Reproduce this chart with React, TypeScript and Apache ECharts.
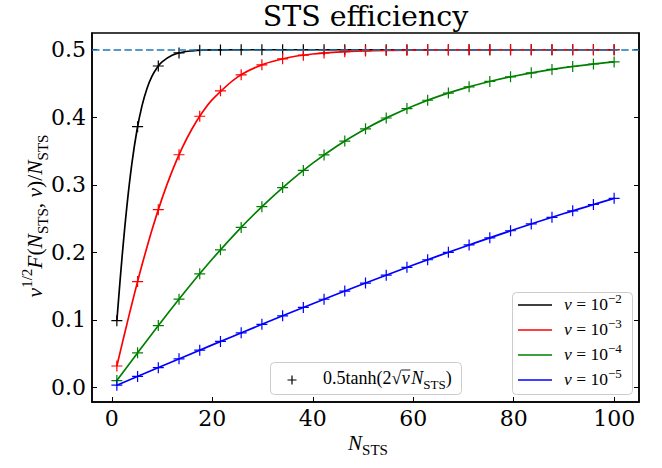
import React, { useEffect, useRef } from "react";
import * as echarts from "echarts";

// ---- tick labels ----
const xTicks = [0, 20, 40, 60, 80, 100];
const yTicks = [0, 0.1, 0.2, 0.3, 0.4, 0.5];

// ---- marker ("+") samples ----
const markerN = [1, 5.125, 9.25, 13.375, 17.5, 21.625, 25.75, 29.875, 34, 38.125, 42.25, 46.375, 50.5, 54.625, 58.75, 62.875, 67, 71.125, 75.25, 79.375, 83.5, 87.625, 91.75, 95.875, 100];
const markerNu2 = [0.0987, 0.386, 0.4759, 0.4953, 0.4991, 0.4998, 0.5, 0.5, 0.5, 0.5, 0.5, 0.5, 0.5, 0.5, 0.5, 0.5, 0.5, 0.5, 0.5, 0.5, 0.5, 0.5, 0.5, 0.5, 0.5];
const markerNu3 = [0.0316, 0.1566, 0.2632, 0.3445, 0.4015, 0.4391, 0.4629, 0.4777, 0.4866, 0.492, 0.4952, 0.4972, 0.4983, 0.499, 0.4994, 0.4996, 0.4998, 0.4999, 0.4999, 0.5, 0.5, 0.5, 0.5, 0.5, 0.5];
const markerNu4 = [0.01, 0.0511, 0.0915, 0.1306, 0.1682, 0.2037, 0.2369, 0.2676, 0.2958, 0.3213, 0.3442, 0.3647, 0.3829, 0.3989, 0.4129, 0.4252, 0.4358, 0.4451, 0.453, 0.4599, 0.4658, 0.4708, 0.4752, 0.4789, 0.482];
const markerNu5 = [0.0032, 0.0162, 0.0292, 0.0422, 0.0551, 0.068, 0.0807, 0.0934, 0.1059, 0.1183, 0.1305, 0.1426, 0.1545, 0.1662, 0.1777, 0.189, 0.2, 0.2109, 0.2215, 0.2319, 0.242, 0.2518, 0.2614, 0.2708, 0.2799];

// ---- curve samples ----
const lineNu2N = [1, 2, 3, 4, 5, 6, 7, 8, 9, 10, 12, 14, 16, 18, 20, 25, 30, 100];
const lineNu2 = [0.0987, 0.19, 0.2685, 0.332, 0.3808, 0.4168, 0.4427, 0.4608, 0.4734, 0.482, 0.4918, 0.4963, 0.4983, 0.4993, 0.4997, 0.5, 0.5, 0.5];
const lineNu3N = [1, 2, 3, 4, 5, 6, 8, 10, 12, 14, 16, 18, 20, 25, 30, 35, 40, 45, 50, 60, 70, 80, 100];
const lineNu3 = [0.0316, 0.0629, 0.0937, 0.1239, 0.153, 0.1811, 0.2334, 0.2799, 0.3202, 0.3546, 0.3833, 0.4069, 0.4262, 0.4594, 0.478, 0.4882, 0.4937, 0.4966, 0.4982, 0.4995, 0.4999, 0.5, 0.5];
const lineNu4N = [1, 5, 10, 15, 20, 25, 30, 35, 40, 45, 50, 55, 60, 65, 70, 75, 80, 85, 90, 95, 100];
const lineNu4 = [0.01, 0.0498, 0.0987, 0.1457, 0.19, 0.2311, 0.2685, 0.3022, 0.332, 0.3582, 0.3808, 0.4002, 0.4168, 0.4309, 0.4427, 0.4526, 0.4608, 0.4677, 0.4734, 0.4781, 0.482];
const lineNu5N = [1, 10, 20, 30, 40, 50, 60, 70, 80, 90, 100];
const lineNu5 = [0.0032, 0.0316, 0.0629, 0.0937, 0.1239, 0.153, 0.1811, 0.2079, 0.2334, 0.2574, 0.2799];

const asymptote = 0.5;

const curveColors = ["#000000", "#ff0000", "#008000", "#0000ff"];
const curveExponents = ["2", "3", "4", "5"];

const zip = (xs: number[], ys: number[]) => xs.map((x, i) => [x, ys[i]]);

const PLUS =
  "path://M-0.11,-1L0.11,-1L0.11,-0.11L1,-0.11L1,0.11L0.11,0.11L0.11,1L-0.11,1L-0.11,0.11L-1,0.11L-1,-0.11L-0.11,-0.11Z";

const SERIF = "'DejaVu Serif', serif";
const MATH = "'Liberation Serif', 'DejaVu Serif', serif";

function measure(text: string, font: string): number {
  const c = document.createElement("canvas").getContext("2d");
  if (!c) return text.length * 8;
  c.font = font;
  return c.measureText(text).width;
}

export default function App() {
  const ref = useRef<HTMLDivElement>(null);

  useEffect(() => {
    if (!ref.current) return;
    document.body.style.margin = "0";
    const chart = echarts.init(ref.current, undefined, { renderer: "svg" });

    const lines = [
      [lineNu2N, lineNu2],
      [lineNu3N, lineNu3],
      [lineNu4N, lineNu4],
      [lineNu5N, lineNu5],
    ];
    const markers = [markerNu2, markerNu3, markerNu4, markerNu5];

    const series: any[] = [];
    lines.forEach(([xs, ys], i) => {
      series.push({
        type: "line",
        name: "nu" + curveExponents[i],
        data: zip(xs as number[], ys as number[]),
        symbol: "none",
        smooth: 0.35,
        lineStyle: { color: curveColors[i], width: 1.7 },
        z: 2,
        silent: true,
      });
    });
    markers.forEach((ys, i) => {
      series.push({
        type: "scatter",
        name: "mk" + curveExponents[i],
        data: zip(markerN, ys),
        symbol: PLUS,
        symbolSize: 11,
        itemStyle: { color: curveColors[i], opacity: 1 },
        z: 3,
        silent: true,
      });
    });
    series.push({
      type: "line",
      name: "asym",
      data: [],
      markLine: {
        silent: true,
        symbol: ["none", "none"],
        label: { show: false },
        lineStyle: { color: "#1f77b4", width: 1.5, type: [7.5, 3.3] },
        data: [{ yAxis: asymptote }],
      },
      z: 4,
    });

    const mathRich = (size: number) => ({
      i: { fontFamily: MATH, fontStyle: "italic", fontSize: size, color: "#000", lineHeight: size * 1.4 },
      r: { fontFamily: MATH, fontSize: size, color: "#000", lineHeight: size * 1.4 },
      sup: { fontFamily: MATH, fontSize: Math.round(size * 0.72), color: "#000", verticalAlign: "top", lineHeight: Math.round(size * 0.72) },
      sub: { fontFamily: MATH, fontSize: Math.round(size * 0.72), color: "#000", verticalAlign: "bottom", lineHeight: Math.round(size * 0.72) },
    });

    const legendRows = curveColors
      .map((c, i) => {
        const y = 305 + i * 25;
        return [
          { type: "line", shape: { x1: 518, y1: y, x2: 552, y2: y }, style: { stroke: c, lineWidth: 1.7 }, z: 101 },
          {
            type: "text",
            x: 564,
            y: y - 1,
            style: {
              text: "{i|ν}{r| = 10}{sup|−" + curveExponents[i] + "}",
              rich: mathRich(17.5),
              align: "left",
              verticalAlign: "middle",
            },
            z: 101,
          },
        ];
      })
      .flat();

    // left legend text pieces, positioned by measured widths
    const lgSize = 18;
    const lgX = 323;
    const lgY = 378;
    const partA = "0.5tanh(2√";
    const wA = measure(partA, `${lgSize}px 'Liberation Serif'`);
    const wNu = measure("ν", `italic ${lgSize}px 'Liberation Serif'`);
    const nuX = lgX + wA + 0.5;
    const restX = nuX + wNu + 1.5;

    const option: any = {
      animation: false,
      grid: { left: 92, top: 33, right: 23, bottom: 66, show: true, borderColor: "#000", borderWidth: 1.5, backgroundColor: "transparent" },
      xAxis: {
        type: "value",
        min: -3.95,
        max: 104.95,
        axisLine: { show: true, onZero: false, lineStyle: { color: "#000", width: 1.5 } },
        axisTick: { show: true, inside: true, length: 5, customValues: xTicks, lineStyle: { color: "#000", width: 1 } },
        axisLabel: { customValues: xTicks, fontFamily: SERIF, fontSize: 22, color: "#000", margin: 5 },
        splitLine: { show: false },
      },
      yAxis: [
        {
          type: "value",
          min: -0.0217,
          max: 0.5248,
          axisLine: { show: true, onZero: false, lineStyle: { color: "#000", width: 1.5 } },
          axisTick: { show: true, inside: true, length: 5, customValues: yTicks, lineStyle: { color: "#000", width: 1 } },
          axisLabel: { customValues: yTicks, fontFamily: SERIF, fontSize: 22, color: "#000", margin: 6, formatter: (v: number) => v.toFixed(1) },
          splitLine: { show: false },
        },
        {
          type: "value",
          position: "right",
          min: -0.0217,
          max: 0.5248,
          axisLine: { show: true, onZero: false, lineStyle: { color: "#000", width: 1.5 } },
          axisTick: { show: true, inside: true, length: 5, customValues: yTicks, lineStyle: { color: "#000", width: 1 } },
          axisLabel: { show: false },
          splitLine: { show: false },
        },
      ],
      series,
      graphic: [
        {
          type: "text",
          x: 365.5,
          y: 16,
          style: {
            text: "{t|STS efficiency}",
            rich: { t: { fontFamily: SERIF, fontSize: 28.5, color: "#000", lineHeight: 34 } },
            align: "center",
            verticalAlign: "middle",
          },
        },
        {
          type: "text",
          x: 368,
          y: 443,
          style: { text: "{i|N}{sub|STS}", rich: mathRich(21), align: "center", verticalAlign: "middle" },
        },
        {
          type: "text",
          x: 35,
          y: 216,
          rotation: Math.PI / 2,
          style: {
            text: "{i|ν}{sup|1/2}{i|F}{r|(}{i|N}{sub|STS}{r|, }{i|ν}{r|)}{r|/}{i|N}{sub|STS}",
            rich: mathRich(21.5),
            align: "center",
            verticalAlign: "middle",
          },
        },
        // right legend
        {
          type: "rect",
          shape: { x: 512.5, y: 292.5, width: 120, height: 102, r: 4 },
          style: { fill: "rgba(255,255,255,0.8)", stroke: "#cccccc", lineWidth: 1 },
          z: 100,
        },
        ...legendRows,
        // left legend
        {
          type: "rect",
          shape: { x: 270.5, y: 362.5, width: 191, height: 32, r: 4 },
          style: { fill: "rgba(255,255,255,0.8)", stroke: "#cccccc", lineWidth: 1 },
          z: 100,
        },
        {
          type: "polygon",
          shape: {
            points: [[291.4, 375.5], [292.6, 375.5], [292.6, 379.4], [296.5, 379.4], [296.5, 380.6], [292.6, 380.6], [292.6, 384.5], [291.4, 384.5], [291.4, 380.6], [287.5, 380.6], [287.5, 379.4], [291.4, 379.4]],
          },
          style: { fill: "#000" },
          z: 101,
        },
        {
          type: "text",
          x: lgX,
          y: lgY,
          style: { text: "{r|" + partA + "}", rich: mathRich(lgSize), align: "left", verticalAlign: "middle" },
          z: 101,
        },
        {
          type: "text",
          x: nuX,
          y: lgY,
          style: { text: "{i|ν}", rich: mathRich(lgSize), align: "left", verticalAlign: "middle" },
          z: 101,
        },
        {
          type: "line",
          shape: { x1: nuX - 0.5, y1: lgY - 8, x2: nuX + wNu + 0.5, y2: lgY - 8 },
          style: { stroke: "#000", lineWidth: 0.9 },
          z: 101,
        },
        {
          type: "text",
          x: restX,
          y: lgY,
          style: { text: "{i|N}{sub|STS}{r|)}", rich: mathRich(lgSize), align: "left", verticalAlign: "middle" },
          z: 101,
        },
      ],
    };

    chart.setOption(option);
    return () => chart.dispose();
  }, []);

  return <div ref={ref} style={{ position: "absolute", left: 0, top: 0, width: 662, height: 468 }} />;
}
